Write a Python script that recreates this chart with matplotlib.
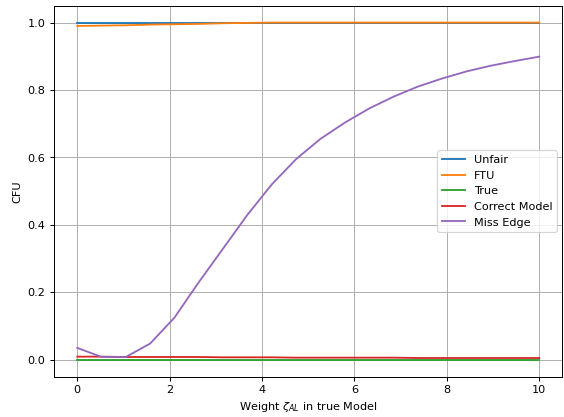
import numpy as np
import matplotlib
matplotlib.use("Agg")
import matplotlib.pyplot as plt

# weights used in the true model
weights = np.linspace(0, 10, 20)

unfair = [1.0, 1.0, 1.0, 1.0, 1.0, 1.0, 1.0, 1.0, 1.0, 1.0,
          1.0, 1.0, 1.0, 1.0, 1.0, 1.0, 1.0, 1.0, 1.0, 1.0]
ftu = [0.990, 0.991, 0.992, 0.994, 0.995, 0.996, 0.998, 0.999, 1.0, 1.0,
       1.0, 1.0, 1.0, 1.0, 1.0, 1.0, 1.0, 1.0, 1.0, 1.0]
true_model = [0.0] * 20
correct_model = [0.009, 0.009, 0.008, 0.008, 0.008, 0.008, 0.007, 0.007, 0.007, 0.006,
                 0.006, 0.006, 0.006, 0.006, 0.005, 0.005, 0.005, 0.005, 0.005, 0.005]
miss_edge = [0.035, 0.008, 0.008, 0.048, 0.125, 0.23, 0.33, 0.43, 0.52, 0.595,
             0.655, 0.703, 0.745, 0.78, 0.81, 0.834, 0.855, 0.872, 0.886, 0.899]

plt.rcParams['font.size'] = 9.25

fig = plt.figure(figsize=(6.41, 4.74), dpi=88)
ax = fig.add_axes([0.096, 0.097, 0.901, 0.889])

ax.plot(weights, unfair, label='Unfair')
ax.plot(weights, ftu, label='FTU')
ax.plot(weights, true_model, label='True')
ax.plot(weights, correct_model, label='Correct Model')
ax.plot(weights, miss_edge, label='Miss Edge')

ax.grid(True)
ax.legend(loc='center right')
ax.set_xlabel(r'Weight $\zeta_{AL}$ in true Model')
ax.set_ylabel('CFU')

fig.savefig('out.png', dpi=88)
